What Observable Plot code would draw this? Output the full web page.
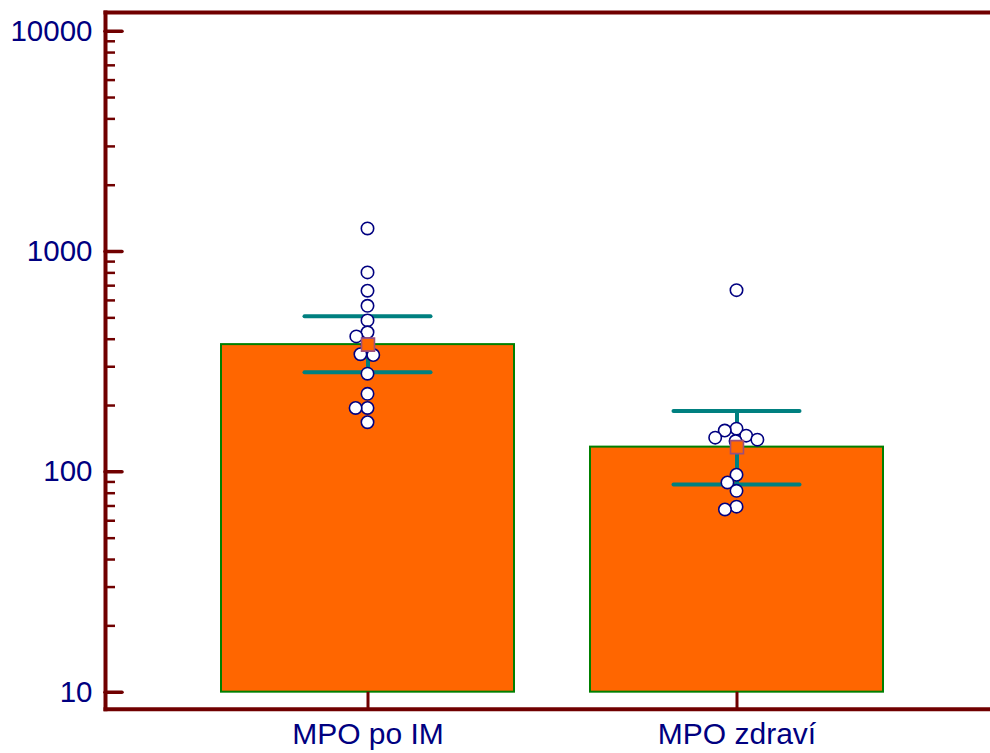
<!DOCTYPE html>
<html>
<head>
<meta charset="utf-8">
<script src="https://cdn.jsdelivr.net/npm/d3@7"></script>
<script src="https://cdn.jsdelivr.net/npm/@observablehq/plot@0.6"></script>
<style>
html, body { margin: 0; padding: 0; background: #ffffff; }
</style>
</head>
<body>
<div id="chart"></div>
<script>
// ---- data ----
const categories = ["MPO po IM", "MPO zdraví"];
const means = [378, 129.5];
const upper = [509, 189];
const lower = [283.5, 87.7];
const valuesPoIM = [1273, 804, 664, 567, 487, 430, 412, 378, 342, 339, 279, 226, 195, 195, 168];
const valuesZdravi = [668, 157, 154, 146, 143, 140, 138, 97, 89.5, 82, 69.5, 67.5];
const yTickValues = [10, 100, 1000, 10000];
const yTickLabels = ["10", "100", "1000", "10000"];
const yMinorTicks = [20, 30, 40, 50, 60, 70, 80, 90,
                     200, 300, 400, 500, 600, 700, 800, 900,
                     2000, 3000, 4000, 5000, 6000, 7000, 8000, 9000];
const yDomain = [8.37, 12160];
const baseline = 10;

// ---- tables built from the arrays ----
const summary = categories.map((c, i) => ({category: c, mean: means[i], lo: lower[i], hi: upper[i]}));
const groups = [
  {category: categories[0], values: valuesPoIM},
  {category: categories[1], values: valuesZdravi}
];

// ---- layout & style ----
const W = 990, H = 753, mL = 105, mR = 0, mT = 12, mB = 44.3;
const axisColor = "#700000";
const textColor = "#000080";
const teal = "#008080";
const font = "'Liberation Sans', Arial, Helvetica, sans-serif";

const xOpts = {type: "band", domain: categories, range: [220.5, 882.5], paddingInner: 0.206, paddingOuter: 0, align: 0.5};
const xs = Plot.scale({x: xOpts});
const frameMid = (mL + W - mR) / 2;
const frameW = W - mL - mR;
// centre of a category's band, through the library's scale
const bandCentre = c => {
  const v = xs.apply(c);
  return v; // Plot's band scale apply() already returns the band centre
};

const chart = Plot.plot({
  width: W,
  height: H,
  marginLeft: mL,
  marginRight: mR,
  marginTop: mT,
  marginBottom: mB,
  style: {fontFamily: font, background: "#ffffff", overflow: "visible"},
  x: {...xOpts, axis: null},
  y: {type: "log", domain: yDomain, axis: null},
  marks: [
    // bars
    Plot.barY(summary, {x: "category", y1: baseline, y2: "mean", fill: "#ff6600", stroke: "#008000", strokeWidth: 2}),
    // y ticks (pointing inward)
    Plot.ruleY(yMinorTicks, {y: d => d, insetRight: frameW - 10, stroke: axisColor, strokeWidth: 2.5}),
    Plot.ruleY(yTickValues, {y: d => d, insetRight: frameW - 17, stroke: axisColor, strokeWidth: 3.5, strokeLinecap: "round"}),
    // x ticks (pointing inward)
    Plot.ruleX(categories, {x: d => d, y1: yDomain[0], y2: baseline, stroke: axisColor, strokeWidth: 3}),
    // frame lines: left, top, bottom
    Plot.frame({anchor: "left", stroke: axisColor, strokeWidth: 4, strokeLinecap: "square"}),
    Plot.frame({anchor: "top", stroke: axisColor, strokeWidth: 4, strokeLinecap: "square"}),
    Plot.frame({anchor: "bottom", stroke: axisColor, strokeWidth: 4, strokeLinecap: "square"}),
    // tick labels
    Plot.text(yTickValues, {y: d => d, text: (d, i) => yTickLabels[i], frameAnchor: "left", textAnchor: "end", dx: -13, fontSize: 29.5, fill: textColor}),
    Plot.text(categories, {x: d => d, text: d => d, frameAnchor: "bottom", lineAnchor: "top", dy: 13, fontSize: 30, fill: textColor}),
    // error bars
    Plot.ruleX(summary, {x: "category", y1: "lo", y2: "hi", stroke: teal, strokeWidth: 4}),
    Plot.tickY(summary, {x: "category", y: "hi", insetLeft: 83.5, insetRight: 83.5, stroke: teal, strokeWidth: 4, strokeLinecap: "round"}),
    Plot.tickY(summary, {x: "category", y: "lo", insetLeft: 83.5, insetRight: 83.5, stroke: teal, strokeWidth: 4, strokeLinecap: "round"}),
    // individual observations (dodged around each category centre)
    ...groups.map(g => Plot.dot(g.values, Plot.dodgeX({anchor: "middle", padding: -0.5}, {
      y: d => d, r: 6.2, fill: "white", stroke: textColor, strokeWidth: 1.6,
      dx: bandCentre(g.category) - frameMid
    }))),
    // mean markers
    Plot.dot(summary, {x: "category", y: "mean", symbol: "square", r: 7.3, fill: "#ff6600", stroke: "#9c4f7c", strokeWidth: 1.6})
  ]
});
document.getElementById("chart").appendChild(chart);
</script>
</body>
</html>
